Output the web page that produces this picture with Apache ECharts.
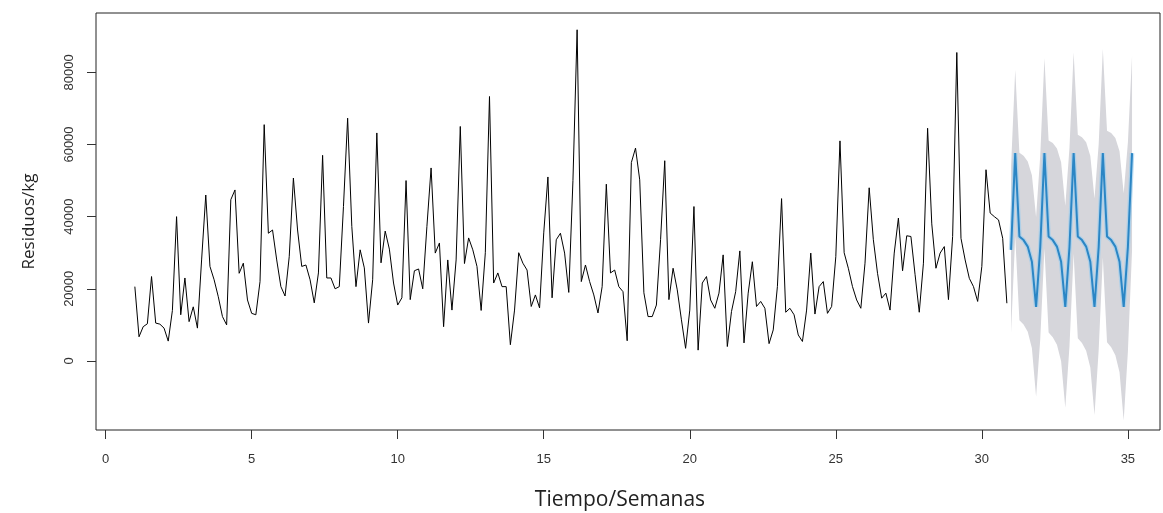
<!DOCTYPE html>
<html><head><meta charset="utf-8">
<script src="https://cdn.jsdelivr.net/npm/echarts@6/dist/echarts.min.js"></script>
<style>html,body{margin:0;padding:0;background:#fff;}#c{width:1163px;height:513px;}</style>
</head><body><div id="c"></div>
<script>
// Observed weekly series (frequency 7, starting at week 1)
const obsStart = 1;
const obsFreq = 7;
const observed = [
  20600, 6700, 9500, 10300, 23400, 10500, 10200,
  9100, 5500, 14000, 40000, 12800, 23000, 10900,
  15000, 9100, 28000, 46000, 26200, 22500, 17800,
  12300, 10000, 44700, 47400, 24300, 27100, 16900,
  13200, 12800, 22000, 65500, 35400, 36300, 28000,
  20600, 18000, 28900, 50700, 36300, 26200, 26600,
  22500, 16100, 24400, 57000, 23000, 23000, 20000,
  20600, 42800, 67300, 37300, 20600, 30800, 25800,
  10500, 22500, 63200, 27200, 36000, 31000, 21600,
  15500, 17500, 50000, 17000, 25000, 25500, 20000,
  37300, 53500, 29900, 32700, 9500, 28000, 14100,
  28000, 65000, 27000, 34100, 30800, 26200, 14000,
  30000, 73300, 21600, 24400, 20600, 20600, 4500,
  14100, 30000, 27100, 25200, 15100, 18300, 14700,
  35500, 51000, 17500, 33600, 35400, 29900, 19000,
  50000, 91800, 22000, 26600, 22000, 18300, 13300,
  20600, 49000, 24400, 25200, 20600, 19200, 5600,
  55000, 59000, 50200, 18900, 12300, 12300, 15500,
  33600, 55500, 17000, 25700, 19700, 11400, 3500,
  14100, 42800, 3000, 21600, 23400, 16900, 14600,
  18800, 29400, 4000, 13700, 19200, 30500, 5000,
  18800, 27500, 15100, 16500, 14600, 4800, 8600,
  20600, 45000, 13500, 14600, 12800, 7200, 5400,
  14100, 29900, 13000, 20600, 22000, 13200, 15100,
  28900, 61000, 30000, 25700, 20600, 16900, 14600,
  27100, 48000, 33600, 24300, 17400, 18800, 14100,
  29900, 39600, 25000, 34700, 34500, 23900, 13500,
  27100, 64500, 38000, 25700, 29900, 31700, 17000,
  34500, 85500, 34000, 28000, 22900, 20600, 16500,
  26200, 53000, 41000, 40000, 39100, 34000, 16000
];

// Forecast (starting at week 31)
const fcStart = 31;
const fcMean = [
  30800, 57600, 34500, 33500, 31700, 27500, 15000,
  31500, 57600, 34500, 33500, 31700, 27500, 15000,
  31500, 57600, 34500, 33500, 31700, 27500, 15000,
  31500, 57600, 34500, 33500, 31700, 27500, 15000,
  31500, 57600
];
const fcUpper = [
  53800, 80700, 57700, 56900, 55300, 51500, 39900,
  57000, 84000, 61100, 60400, 58900, 55100, 43000,
  59000, 85500, 62700, 62000, 60600, 56800, 45000,
  60000, 86500, 63800, 63200, 61800, 58100, 46500,
  60500, 84600
];
const fcLower = [
  7800, 34500, 11300, 10100, 8100, 3500, -9900,
  6000, 31200, 7900, 6600, 4500, -100, -13000,
  4000, 29700, 6300, 5000, 2800, -1800, -15000,
  3000, 28700, 5200, 3800, 1600, -3100, -16500,
  2500, 30600
];

const xTicks = [0, 5, 10, 15, 20, 25, 30, 35];
const yTicks = [0, 20000, 40000, 60000, 80000];

const obsData = observed.map((v, i) => [obsStart + i / obsFreq, v]);
const fcX = fcMean.map((v, i) => fcStart + i / obsFreq);
const meanData = fcMean.map((v, i) => [fcX[i], v]);

const chart = echarts.init(document.getElementById('c'), null, {renderer: 'canvas'});
const labelFont = 'Liberation Sans, Arial, sans-serif';
const titleFont = 'Open Sans, Noto Sans, sans-serif';

chart.setOption({
  animation: false,
  backgroundColor: '#fff',
  grid: {
    left: 96, right: 3, top: 13, bottom: 83,
    show: true, borderColor: '#222', borderWidth: 1,
    containLabel: false, outerBoundsMode: 'none'
  },
  xAxis: {
    type: 'value', min: -0.33, max: 36.1,
    name: 'Tiempo/Semanas', nameLocation: 'middle', nameGap: 60,
    nameTextStyle: {fontFamily: titleFont, fontSize: 21, color: '#222', padding: [0, 16, 0, 0]},
    axisLine: {show: false, onZero: false},
    splitLine: {show: false},
    axisTick: {show: true, customValues: xTicks, length: 9, lineStyle: {color: '#333'}},
    axisLabel: {customValues: xTicks, margin: 23, fontSize: 13, color: '#333', fontFamily: labelFont,
      formatter: v => String(v)}
  },
  yAxis: {
    type: 'value', min: -19140, max: 96450,
    name: 'Residuos/kg', nameLocation: 'middle', nameGap: 58, nameRotate: 90,
    nameTextStyle: {fontFamily: titleFont, fontSize: 17, color: '#222'},
    axisLine: {show: false, onZero: false},
    splitLine: {show: false},
    axisTick: {show: true, customValues: yTicks, length: 9, lineStyle: {color: '#333'}},
    axisLabel: {customValues: yTicks, rotate: 90, margin: 20, fontSize: 13, color: '#333', fontFamily: labelFont,
      formatter: v => String(v)}
  },
  series: [
    {
      type: 'custom',
      data: [[fcStart, 0]],
      silent: true,
      clip: true,
      z: 1,
      renderItem: function (params, api) {
        const pts = [];
        for (let i = 0; i < fcX.length; i++) pts.push(api.coord([fcX[i], fcUpper[i]]));
        for (let i = fcX.length - 1; i >= 0; i--) pts.push(api.coord([fcX[i], fcLower[i]]));
        return {type: 'polygon', shape: {points: pts}, style: {fill: '#d6d6db', stroke: null}};
      }
    },
    {
      type: 'line', data: meanData, symbol: 'none', silent: true,
      lineStyle: {color: '#9ccdee', width: 4.5, opacity: 0.7}, z: 2
    },
    {
      type: 'line', data: meanData, symbol: 'none',
      lineStyle: {color: '#2b86c5', width: 2}, z: 3
    },
    {
      type: 'line', data: obsData, symbol: 'none',
      lineStyle: {color: '#000', width: 1}, z: 4
    }
  ]
});
</script>
</body></html>
